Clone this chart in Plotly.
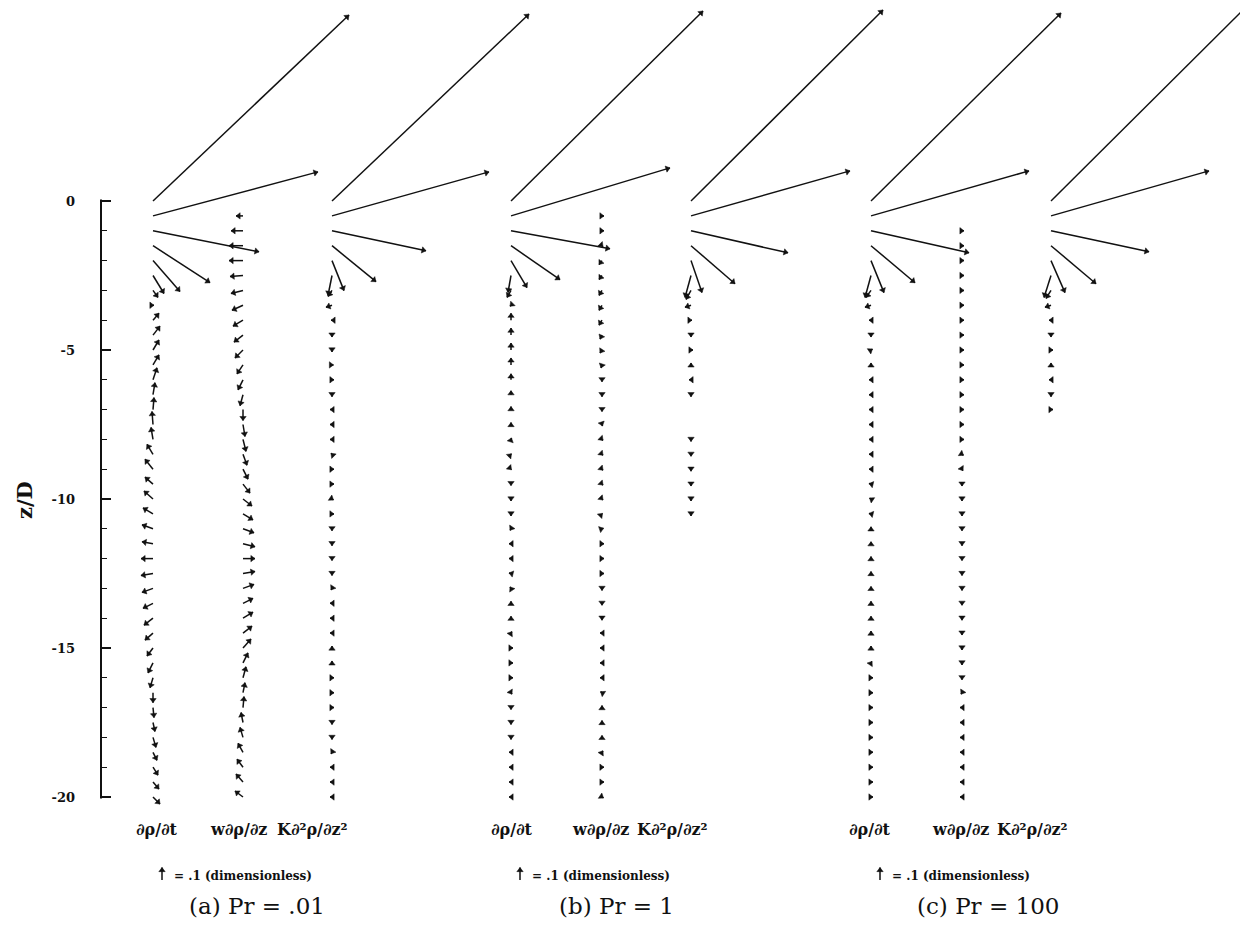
import math
import plotly.graph_objects as go

# ---------------- data ----------------
# depth levels z/D (vectors plotted every 0.5)
Z = [0.0, -0.5, -1.0, -1.5, -2.0, -2.5, -3.0, -3.5, -4.0, -4.5, -5.0, -5.5, -6.0, -6.5,
     -7.0, -7.5, -8.0, -8.5, -9.0, -9.5, -10.0, -10.5, -11.0, -11.5, -12.0, -12.5, -13.0,
     -13.5, -14.0, -14.5, -15.0, -15.5, -16.0, -16.5, -17.0, -17.5, -18.0, -18.5, -19.0,
     -19.5, -20.0]

TERMS = ["∂ρ/∂t", "w∂ρ/∂z", "K∂²ρ/∂z²"]
PANEL_TITLES = ["(a) Pr = .01", "(b) Pr = 1", "(c) Pr = 100"]
TICK_VALS = [0, -5, -10, -15, -20]
TICK_TEXT = ["0", "-5", "-10", "-15", "-20"]
MINOR_TICKS = [0, -1, -2, -3, -4, -5, -6, -7, -8, -9, -10, -11, -12, -13, -14, -15, -16,
               -17, -18, -19, -20]
REF_VALUE = 0.1

# (a) Pr = .01  -- horizontal (U) and vertical (W) components, dimensionless
A_DRDT_U = [1.568, 1.32, 0.848, 0.456, 0.216, 0.088, 0.04, 0.008, 0.048, 0.056, 0.048, 0.048,
            0.032, 0.016, 0.008, -0.008, -0.016, -0.048, -0.064, -0.064, -0.072, -0.08, -0.088,
            -0.088, -0.096, -0.096, -0.088, -0.08, -0.072, -0.064, -0.048, -0.04, -0.024, 0.0,
            0.008, 0.016, 0.024, 0.032, 0.04, 0.048, 0.056]
A_DRDT_W = [1.488, 0.352, -0.168, -0.296, -0.248, -0.144, -0.056, 0.0, 0.056, 0.072, 0.08, 0.08,
            0.096, 0.096, 0.096, 0.104, 0.096, 0.08, 0.08, 0.056, 0.064, 0.048, 0.032, 0.016, 0.0,
            -0.016, -0.032, -0.04, -0.056, -0.056, -0.064, -0.08, -0.08, -0.08, -0.08, -0.072,
            -0.08, -0.064, -0.064, -0.056, -0.056]
A_ADV_U = [0.0, -0.056, -0.096, -0.112, -0.112, -0.104, -0.096, -0.088, -0.08, -0.072, -0.064,
           -0.048, -0.04, -0.024, 0.0, 0.016, 0.024, 0.032, 0.04, 0.056, 0.072, 0.08, 0.088,
           0.096, 0.096, 0.096, 0.088, 0.08, 0.08, 0.072, 0.064, 0.04, 0.024, 0.016, 0.008,
           -0.016, -0.024, -0.04, -0.048, -0.056, -0.064]
A_ADV_W = [0.0, 0.0, 0.0, 0.0, 0.0, -0.008, -0.024, -0.04, -0.048, -0.056, -0.064, -0.072, -0.08,
           -0.088, -0.088, -0.096, -0.096, -0.088, -0.08, -0.072, -0.056, -0.048, -0.032, -0.024,
           0.0, 0.016, 0.032, 0.04, 0.048, 0.056, 0.072, 0.08, 0.088, 0.08, 0.088, 0.08, 0.08,
           0.072, 0.064, 0.064, 0.048]
A_DIFF_U = [1.576, 1.256, 0.752, 0.352, 0.096, -0.032, -0.032, -0.048, -0.008, 0.0, 0.0, 0.012,
            0.016, 0.0, -0.016, -0.016, -0.016, -0.008, 0.016, 0.016, 0.012, 0.016, 0.0, 0.0, 0.0,
            0.0, -0.008, -0.016, -0.016, -0.016, 0.0, 0.0, 0.016, 0.016, 0.016, 0.0, 0.0, -0.008,
            -0.016, -0.016, -0.016]
A_DIFF_W = [1.496, 0.352, -0.16, -0.288, -0.24, -0.16, -0.048, -0.016, 0.0, -0.016, -0.016, 0.0,
            0.0, -0.016, 0.0, 0.0, 0.0, 0.008, 0.0, 0.0, -0.008, 0.0, -0.016, -0.016, -0.016,
            -0.016, -0.012, 0.0, 0.0, 0.0, 0.016, 0.016, 0.0, 0.0, 0.0, -0.016, -0.016, -0.012,
            0.0, 0.0, 0.0]

# (b) Pr = 1
B_DRDT_U = [1.536, 1.272, 0.792, 0.392, 0.128, -0.024, -0.032, -0.008, 0.0, 0.0, 0.0, 0.0, 0.0,
            0.0, 0.0, 0.0, 0.004, 0.004, 0.004, 0.0, 0.0, 0.0, -0.008, -0.016, -0.016, -0.016,
            -0.008, 0.0, 0.0, 0.008, 0.016, 0.016, 0.016, 0.008, 0.0, 0.0, 0.0, -0.016, -0.016,
            -0.016, -0.016]
B_DRDT_W = [1.52, 0.384, -0.144, -0.272, -0.216, -0.136, -0.056, -0.008, 0.056, 0.056, 0.056,
            0.056, 0.048, 0.032, 0.024, 0.016, 0.012, 0.004, -0.004, -0.012, -0.016, -0.016,
            -0.012, 0.0, 0.0, 0.004, 0.012, 0.016, 0.016, 0.012, 0.0, 0.0, 0.0, -0.012, -0.016,
            -0.016, -0.016, 0.0, 0.0, 0.0, 0.0]
B_ADV_U = [0.0, 0.016, 0.016, 0.008, -0.024, -0.024, -0.024, -0.024, -0.024, -0.016, -0.016,
           -0.008, 0.0, 0.0, 0.0, 0.004, 0.008, 0.008, 0.008, 0.008, 0.008, 0.004, 0.012, 0.016,
           0.016, 0.016, 0.0, 0.0, 0.0, -0.016, -0.016, -0.016, -0.016, -0.012, 0.0, 0.0, 0.0,
           0.008, 0.016, 0.016, 0.012]
B_ADV_W = [0.0, 0.0, 0.0, -0.008, -0.032, -0.032, -0.04, -0.04, -0.04, -0.032, -0.024, -0.024,
           -0.016, -0.016, -0.016, -0.012, -0.008, -0.008, -0.008, -0.008, -0.008, 0.004, 0.004,
           0.0, 0.0, 0.0, -0.016, -0.016, -0.016, 0.0, 0.0, 0.0, 0.0, 0.008, 0.016, 0.016, 0.016,
           0.012, 0.0, 0.0, -0.008]
B_DIFF_U = [1.536, 1.272, 0.776, 0.352, 0.088, -0.048, -0.04, -0.048, 0.008, 0.0, 0.016, 0.0,
            -0.016, 0.0, 0.0, 0.0, 0.0, 0.0, 0.0, 0.0, 0.0, 0.0]
B_DIFF_W = [1.528, 0.36, -0.176, -0.304, -0.256, -0.176, -0.072, -0.016, 0.0, -0.016, 0.0, 0.016,
            0.0, -0.016, 0.0, 0.0, -0.016, -0.016, -0.016, -0.016, -0.016, -0.016]

# (c) Pr = 100
C_DRDT_U = [1.52, 1.264, 0.784, 0.352, 0.104, -0.048, -0.04, -0.048, -0.016, 0.0, 0.012, 0.0,
            -0.016, -0.016, -0.016, -0.016, -0.016, -0.016, -0.016, -0.016, -0.012, -0.016, 0.0,
            0.0, 0.0, 0.0, 0.0, 0.0, 0.0, 0.0, 0.0, 0.008, 0.016, 0.016, 0.016, 0.016, 0.016,
            0.016, 0.016, 0.016, 0.016]
C_DRDT_W = [1.504, 0.36, -0.176, -0.296, -0.256, -0.176, -0.056, -0.016, 0.0, -0.016, 0.008,
            0.016, 0.0, 0.0, 0.0, 0.0, 0.0, 0.0, 0.0, 0.004, 0.008, 0.004, 0.016, 0.016, 0.016,
            0.016, 0.016, 0.016, 0.016, 0.016, 0.016, 0.012, 0.0, 0.0, 0.0, 0.0, 0.0, 0.0, 0.0,
            0.0, 0.0]
C_ADV_U = [0.0, 0.0, 0.016, 0.016, 0.016, 0.016, 0.016, 0.016, 0.016, 0.016, 0.016, 0.016,
           0.016, 0.016, 0.016, 0.016, 0.016, 0.012, 0.008, 0.0, 0.0, 0.0, 0.0, 0.0, 0.0, 0.0,
           0.0, 0.0, 0.0, 0.0, 0.0, 0.0, 0.0, -0.008, -0.016, -0.016, -0.016, -0.016, -0.016,
           -0.016, -0.016]
C_ADV_W = [0.0, 0.0, 0.0, 0.0, 0.0, 0.0, 0.0, 0.0, 0.0, 0.0, 0.0, 0.0, 0.0, 0.0, 0.0, 0.0, 0.0,
           -0.008, -0.012, -0.016, -0.016, -0.016, -0.016, -0.016, -0.016, -0.016, -0.016,
           -0.016, -0.016, -0.016, -0.016, -0.016, -0.016, -0.012, 0.0, 0.0, 0.0, 0.0, 0.0, 0.0,
           0.0]
C_DIFF_U = [1.536, 1.264, 0.784, 0.36, 0.112, -0.056, -0.04, -0.048, -0.016, 0.0, 0.016, 0.0,
            -0.016, 0.0, 0.016]
C_DIFF_W = [1.528, 0.36, -0.168, -0.304, -0.256, -0.176, -0.064, -0.016, 0.0, -0.016, 0.0, 0.016,
            0.0, -0.016, 0.0]

SERIES = [
    [(A_DRDT_U, A_DRDT_W), (A_ADV_U, A_ADV_W), (A_DIFF_U, A_DIFF_W)],
    [(B_DRDT_U, B_DRDT_W), (B_ADV_U, B_ADV_W), (B_DIFF_U, B_DIFF_W)],
    [(C_DRDT_U, C_DRDT_W), (C_ADV_U, C_ADV_W), (C_DIFF_U, C_DIFF_W)],
]

# ---------------- layout ----------------
FIG_W, FIG_H = 1240, 934
LEFT = 101                 # pixel position of the z/D axis line
PX_PER_UNIT = 125.0        # vector scale: 0.1 -> 12.5 px
PX_PER_Z = 29.8            # vertical axis scale
Z0_PX = 201                # pixel row of z/D = 0
HEAD_SIZE = 5.5            # arrowhead marker size (px)

X_RANGE = [0, (FIG_W - LEFT) / PX_PER_UNIT]
Y_RANGE = [-(FIG_H - Z0_PX) / PX_PER_Z, Z0_PX / PX_PER_Z]
VK = PX_PER_UNIT / PX_PER_Z   # vertical component -> z/D units


def xd(px):
    return (px - LEFT) / PX_PER_UNIT


def yd(py):
    return (Z0_PX - py) / PX_PER_Z


COLUMN_PX = [[153, 243, 332], [511, 602, 691], [871, 962, 1051]]
LABEL_PX = [[157, 238, 312], [512, 600, 672], [870, 960, 1032]]
REF_ARROW_PX = [162, 520, 880]
TITLE_PX = [257, 616, 988]

SERIF = "DejaVu Serif"
INK = "#111111"

shaft_x, shaft_y = [], []
head_x, head_y, head_ang = [], [], []


def add_vector(bx, bz, u, w):
    hx, hy = bx + u, bz + w * VK
    shaft_x.extend([bx, hx, None])
    shaft_y.extend([bz, hy, None])
    ang = math.atan2(u, w)          # clockwise from "up", screen space
    back = HEAD_SIZE / 2.0          # triangle tip sits r px ahead of its centre
    head_x.append(hx - back * math.sin(ang) / PX_PER_UNIT)
    head_y.append(hy - back * math.cos(ang) / PX_PER_Z)
    head_ang.append(math.degrees(ang))


annotations = []
for p in range(3):
    for t in range(3):
        U, W = SERIES[p][t]
        bx = xd(COLUMN_PX[p][t])
        for z, u, w in zip(Z, U, W):
            if u == 0 and w == 0:
                continue
            add_vector(bx, z, u, w)
        annotations.append(dict(
            x=xd(LABEL_PX[p][t]), y=yd(829), xref="x", yref="y", text=TERMS[t],
            showarrow=False, font=dict(family=SERIF, size=16, color=INK, weight="bold"),
            xanchor="center", yanchor="middle"))
    # reference arrow
    add_vector(xd(REF_ARROW_PX[p]), yd(880), 0.0, REF_VALUE)
    annotations.append(dict(
        x=xd(REF_ARROW_PX[p] + 10), y=yd(876), xref="x", yref="y",
        text="= .1 (dimensionless)", showarrow=False,
        font=dict(family=SERIF, size=12, color=INK, weight="bold"),
        xanchor="left", yanchor="middle"))
    annotations.append(dict(
        x=xd(TITLE_PX[p]), y=yd(906), xref="x", yref="y", text=PANEL_TITLES[p],
        showarrow=False, font=dict(family=SERIF, size=23, color=INK),
        xanchor="center", yanchor="middle"))

# axis title
annotations.append(dict(
    x=(24 - LEFT) / (FIG_W - LEFT), y=yd(500), xref="paper", yref="y", text="z/D",
    showarrow=False, textangle=-90,
    font=dict(family=SERIF, size=21, color=INK, weight="bold"),
    xanchor="center", yanchor="middle"))

fig = go.Figure()
fig.add_trace(go.Scatter(
    x=shaft_x, y=shaft_y, mode="lines", line=dict(color=INK, width=1.5),
    hoverinfo="skip", showlegend=False, cliponaxis=False))
fig.add_trace(go.Scatter(
    x=head_x, y=head_y, mode="markers",
    marker=dict(symbol="triangle-up", size=HEAD_SIZE, angle=head_ang, color=INK,
                line=dict(width=0.5, color=INK)),
    hoverinfo="skip", showlegend=False, cliponaxis=False))

fig.update_layout(
    width=FIG_W, height=FIG_H, autosize=False,
    margin=dict(l=LEFT, r=0, t=0, b=0, pad=0),
    paper_bgcolor="white", plot_bgcolor="white",
    showlegend=False,
    xaxis=dict(range=X_RANGE, visible=False, showgrid=False, zeroline=False, fixedrange=True),
    yaxis=dict(
        range=Y_RANGE, showgrid=False, zeroline=False, showline=False, fixedrange=True,
        tickmode="array", tickvals=TICK_VALS, ticktext=TICK_TEXT,
        ticks="inside", ticklen=10, tickwidth=1.6, tickcolor=INK,
        ticklabelstandoff=25,
        tickfont=dict(family=SERIF, size=13, color=INK, weight="bold"),
        minor=dict(tickmode="array", tickvals=MINOR_TICKS, ticks="inside", ticklen=6,
                   tickwidth=1.2, tickcolor=INK),
    ),
    annotations=annotations,
    shapes=[dict(type="line", xref="paper", yref="y", x0=0, x1=0, y0=-20.05, y1=0.05,
                 line=dict(color=INK, width=2), layer="above")],
)

fig.write_html("out.html", config={"displayModeBar": False},
               post_script="document.body.style.margin='0px';")
